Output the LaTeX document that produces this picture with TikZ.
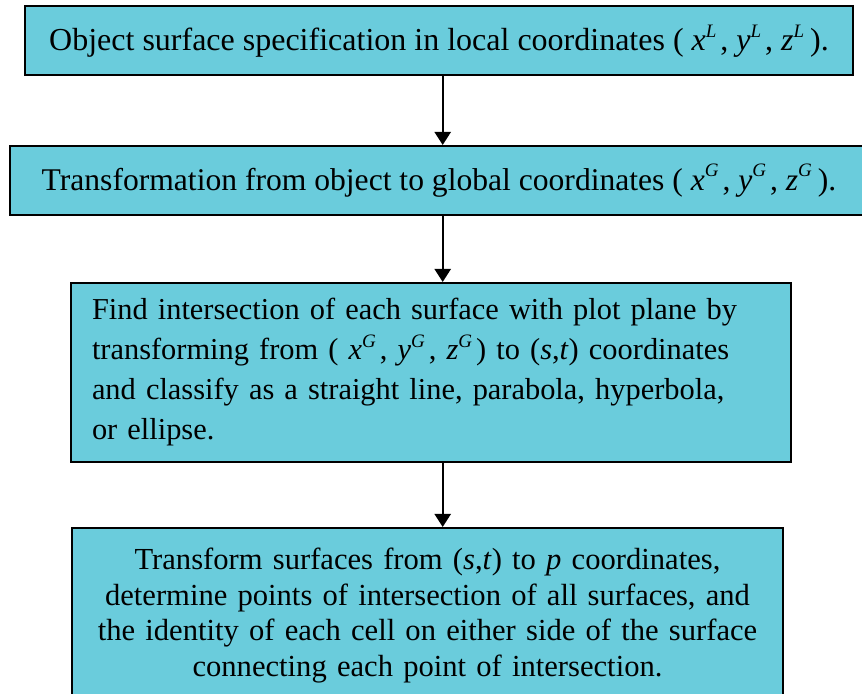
\documentclass[tikz,border=0pt]{standalone}
\usepackage{fontspec}
\setmainfont{Liberation Serif}
\usetikzlibrary{arrows.meta}
\usetikzlibrary{calc}

\definecolor{boxcyan}{RGB}{106,204,220}

\tikzset{
    stage/.style={draw=black, line width=1pt, fill=boxcyan, inner sep=0pt,
                  font=\fontsize{16}{20}\selectfont},
    flow/.style={draw=black, line width=1.15pt, -{Triangle[length=6.5pt,width=8pt]}}
}
% italic coordinate letter with a small raised italic superscript
\newcommand{\crd}[2]{\textit{#1}\raisebox{0.42em}{\fontsize{9.5}{9.5}\selectfont\textit{#2}}\kern2pt}

\begin{document}
\begin{tikzpicture}[x=0.5pt,y=-0.5pt]
            \clip (0,0) rectangle (862,694);
            \useasboundingbox (0,0) rectangle (862,694);
            \coordinate (ax) at (442.7,0);

            \node[stage, minimum width=414pt, minimum height=34.5pt] (local) at (439,41)
                {Object surface specification in local coordinates ( \crd{x}{L}, \crd{y}{L}, \crd{z}{L}\kern1pt).};
            \node[stage, minimum width=429pt, minimum height=34.5pt,
                  font=\fontsize{15.8}{20}\selectfont] (global) at (439,180.5)
                {Transformation from object to global coordinates ( \crd{x}{G}, \crd{y}{G}, \crd{z}{G}\kern1pt).};
            \node[stage, minimum height=89.5pt, text width=339pt, inner xsep=10.5pt, align=left,
                  font=\fontsize{15.2}{20}\selectfont] (plane) at (431,372.5)
                {Find intersection of each surface with plot plane by\\
                 transforming from ( \crd{x}{G}, \crd{y}{G}, \crd{z}{G}) to (\textit{s},\textit{t}) coordinates\\
                 and classify as a straight line, parabola, hyperbola,\\
                 or ellipse.};
            \node[stage, minimum height=87.5pt, text width=355.5pt, align=center,
                  font=\fontsize{15.3}{17.85}\selectfont] (cells) at (427.5,615.5)
                {Transform surfaces from (\textit{s},\textit{t}) to \textit{p} coordinates,\\
                 determine points of intersection of all surfaces, and\\
                 the identity of each cell on either side of the surface\\
                 connecting each point of intersection.};

            \draw[flow] (local.south -| ax) -- (global.north -| ax);
            \draw[flow] (global.south -| ax) -- (plane.north -| ax);
            \draw[flow] (plane.south -| ax) -- (cells.north -| ax);
\end{tikzpicture}
\end{document}
